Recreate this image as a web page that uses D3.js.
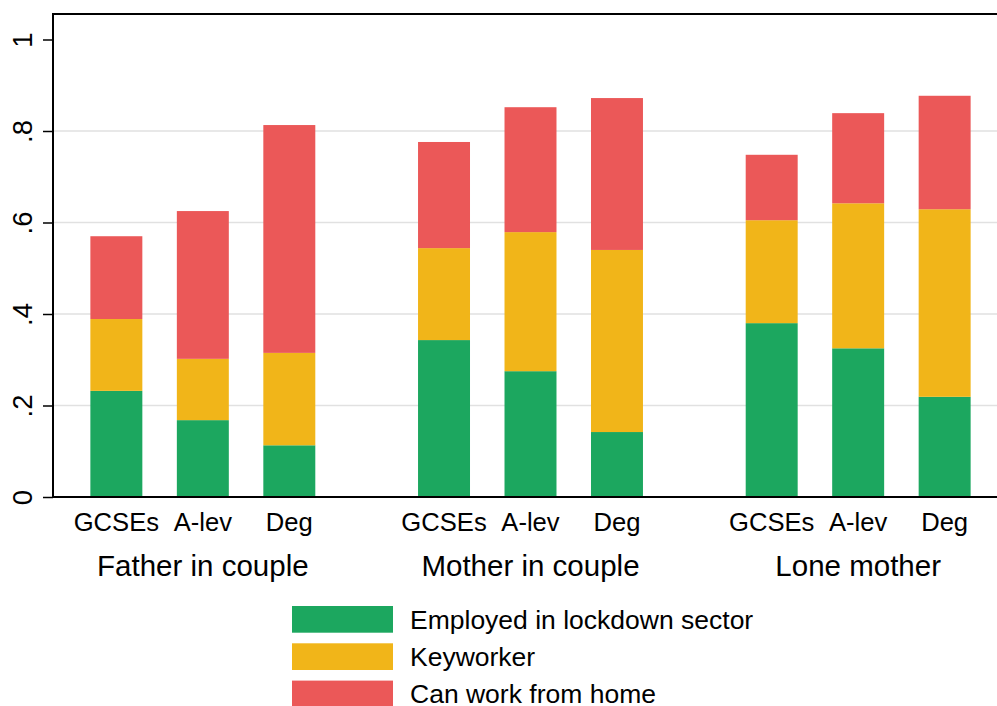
<!DOCTYPE html>
<html><head><meta charset="utf-8">
<script src="https://cdn.jsdelivr.net/npm/d3@7"></script>
<style>body{margin:0;background:#fff}svg{display:block;font-family:"Liberation Sans",Arial,sans-serif}</style>
</head><body>
<svg id="c" width="997" height="706"></svg>
<script>
const groups = ["Father in couple", "Mother in couple", "Lone mother"];
const categories = ["GCSEs", "A-lev", "Deg"];
const seriesNames = ["Employed in lockdown sector", "Keyworker", "Can work from home"];
// segment heights per group, ordered by category
const lockdown = [[0.232, 0.168, 0.113], [0.343, 0.275, 0.142], [0.380, 0.325, 0.219]];
const keyworker = [[0.157, 0.134, 0.202], [0.201, 0.304, 0.398], [0.225, 0.317, 0.410]];
const homework = [[0.181, 0.323, 0.498], [0.232, 0.273, 0.332], [0.143, 0.197, 0.248]];
const yTicks = [0, 0.2, 0.4, 0.6, 0.8, 1];
const yTickLabels = ["0", ".2", ".4", ".6", ".8", "1"];
const colors = ["#1ca75f", "#f1b519", "#eb5858"];

const svg = d3.select("#c");
const pL = 53, pR = 997, pT = 14, pB = 497;
const y = d3.scaleLinear().domain([0, 1]).range([497, 39.5]);
const x0 = d3.scaleBand().domain(groups).range([39, 1022]).padding(0);
const x1 = d3.scaleBand().domain(categories).range([0, x0.bandwidth()]).paddingInner(0.399).paddingOuter(0.594);

// gridlines
svg.append("g").selectAll("line").data(yTicks.filter(d => d > 0 && d < 1)).join("line")
  .attr("x1", pL).attr("x2", pR).attr("y1", d => y(d)).attr("y2", d => y(d))
  .attr("stroke", "#e1e1e1").attr("stroke-width", 1.6);

// stacked data
const rows = [];
groups.forEach((g, gi) => categories.forEach((c, ci) => {
  rows.push({group: g, cat: c, s0: lockdown[gi][ci], s1: keyworker[gi][ci], s2: homework[gi][ci]});
}));
const stack = d3.stack().keys(["s0", "s1", "s2"])(rows);
svg.append("g").selectAll("g").data(stack).join("g").attr("fill", (d, i) => colors[i])
  .selectAll("rect").data(d => d).join("rect")
  .attr("x", d => x0(d.data.group) + x1(d.data.cat))
  .attr("width", x1.bandwidth())
  .attr("y", d => y(d[1]))
  .attr("height", d => y(d[0]) - y(d[1]));

// frame
svg.append("line").attr("x1", pL).attr("x2", pR).attr("y1", pT).attr("y2", pT).attr("stroke", "#000").attr("stroke-width", 2);
svg.append("line").attr("x1", pL).attr("x2", pR).attr("y1", pB).attr("y2", pB).attr("stroke", "#000").attr("stroke-width", 2);

// y axis
const yAxis = d3.axisLeft(y).tickValues(yTicks).tickFormat((d, i) => yTickLabels[i]).tickSize(10).tickSizeOuter(0);
const ga = svg.append("g").attr("transform", `translate(${pL},0)`).call(yAxis);
ga.select(".domain").remove();
ga.append("line").attr("x1", 0).attr("x2", 0).attr("y1", pT - 1).attr("y2", pB + 1).attr("stroke", "#000").attr("stroke-width", 2);
ga.selectAll(".tick line").attr("stroke", "#000").attr("stroke-width", 1.5);
ga.selectAll(".tick text").attr("font-size", 27.5).attr("fill", "#000")
  .attr("text-anchor", "middle").attr("dy", null).attr("x", null)
  .attr("transform", "translate(-21,0) rotate(-90)");

// category labels
svg.append("g").selectAll("text").data(rows).join("text")
  .attr("x", r => x0(r.group) + x1(r.cat) + x1.bandwidth() / 2).attr("y", 531)
  .attr("text-anchor", "middle").attr("font-size", 25.6).text(r => r.cat);
// group labels
svg.append("g").selectAll("text").data(groups).join("text")
  .attr("x", d => x0(d) + x0.bandwidth() / 2).attr("y", 575.5)
  .attr("text-anchor", "middle").attr("font-size", 29.5).text(d => d);

// legend
const lg = svg.append("g");
seriesNames.forEach((n, i) => {
  lg.append("rect").attr("x", 292).attr("y", 606 + i * 37.3).attr("width", 101).attr("height", 26.7).attr("fill", colors[i]);
  lg.append("text").attr("x", 410).attr("y", 628.5 + i * 37.3).attr("font-size", 26.5).text(n);
});
</script>
</body></html>
